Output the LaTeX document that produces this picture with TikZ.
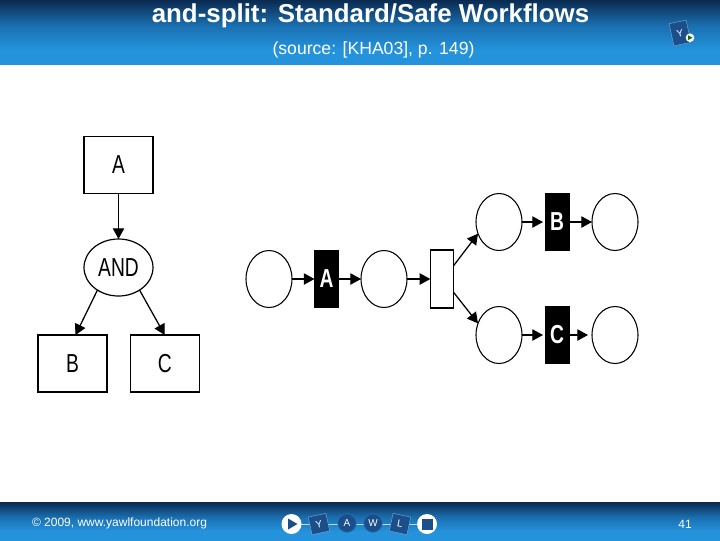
\documentclass[tikz,border=0pt]{standalone}
\usepackage{fontspec}
\setmainfont{Liberation Sans}
\newfontfamily\narrowfont[FakeStretch=0.74]{Liberation Sans}
\usetikzlibrary{arrows.meta,shapes.geometric}
\definecolor{bandA}{HTML}{0A2A50}
\definecolor{bandB}{HTML}{1A6FB0}
\definecolor{bandC}{HTML}{2493DC}
\definecolor{logoDark}{HTML}{1A4F8C}
\definecolor{logoBlue}{HTML}{2A72B4}
\pgfdeclareverticalshading{bandshade}{100bp}{
  color(0bp)=(bandC); color(36bp)=(bandC); color(55bp)=(bandB); color(75bp)=(bandA); color(100bp)=(bandA)}
\tikzset{
  pxgrid/.style={x=0.75pt,y=-0.75pt},
  flow/.style={draw=black,line width=0.95pt,-{Stealth[length=8pt,width=8.5pt,inset=0pt]}},
  taskbox/.style={draw=black,line width=0.9pt,fill=white,rectangle,minimum width=51.75pt,minimum height=42.75pt,inner sep=0pt,outer sep=0pt,font=\narrowfont\fontsize{19.5}{19.5}\selectfont},
  gatewayoval/.style={draw=black,line width=0.9pt,fill=white,ellipse,minimum width=51.75pt,minimum height=42.75pt,inner sep=0pt,outer sep=0pt,font=\narrowfont\fontsize{19.5}{19.5}\selectfont},
  place/.style={draw=black,line width=0.8pt,fill=white,ellipse,minimum width=34.5pt,minimum height=42.75pt,inner sep=0pt,outer sep=0pt},
  blacktask/.style={draw=black,fill=black,rectangle,minimum width=18pt,minimum height=42.75pt,inner sep=0pt,outer sep=0pt,text=white,font=\narrowfont\bfseries\fontsize{19.5}{19.5}\selectfont},
  whitetask/.style={draw=black,line width=0.8pt,fill=white,rectangle,minimum width=17.5pt,minimum height=43.5pt,inner sep=0pt,outer sep=0pt},
  bandtext/.style={text=white,inner sep=0pt},
  logosquare/.style={fill=logoDark,draw=logoBlue!60!white,line width=0.3pt,rectangle,minimum size=13.5pt,inner sep=0pt,text=white,font=\fontsize{7.5}{7.5}\selectfont},
  logoround/.style={fill=logoDark,draw=logoBlue,line width=0.5pt,circle,minimum size=14pt,inner sep=0pt,text=white,font=\fontsize{7.5}{7.5}\selectfont},
  logoend/.style={fill=white,draw=none,circle,minimum size=15pt,inner sep=0pt},
}
\begin{document}
\begin{tikzpicture}[pxgrid]
\useasboundingbox (0,0) rectangle (720,540);
\fill[white] (0,0) rectangle (720,540);
\shade[shading=bandshade] (0,0) rectangle (720,64);
\shade[shading=bandshade] (0,502) rectangle (720,540);

% header
\node[bandtext,font=\bfseries\fontsize{19.4}{19.4}\selectfont] (title) at (370.5,15.5) {and-split: Standard/Safe Workflows};
\node[bandtext,font=\fontsize{13.2}{13.2}\selectfont] (subtitle) at (373.5,50) {(source: [KHA03], p. 149)};
\node[logosquare,minimum width=13pt,minimum height=17pt,rotate=12] (toplogo) at (680,33) {Y};
\node[logoend,minimum size=6.5pt] (topdot) at (690,37.7) {};
\fill[green!45!black] (688.2,35.4) -- (692.5,37.7) -- (688.2,40) -- cycle;

% footer
\node[bandtext,font=\fontsize{9}{9}\selectfont] (copyright) at (119.5,523) {© 2009, www.yawlfoundation.org};
\node[bandtext,font=\fontsize{9}{9}\selectfont] (page) at (685,524) {41};
\coordinate (linkL) at (291.5,524);
\coordinate (linkR) at (427,524);
\draw[white,line width=0.4pt,opacity=.7] (linkL) -- (linkR);
\node[logoend] (play) at (linkL) {};
\fill[logoDark] (288,518.5) -- (297.5,524) -- (288,529.5) -- cycle;
\node[logosquare,rotate=12] (ly) at (319,524) {Y};
\node[logoround] (la) at (347,523) {A};
\node[logoround] (lw) at (373,523) {W};
\node[logosquare,rotate=-12] (ll) at (400,524) {L};
\node[logoend] (stop) at (linkR) {};
\fill[logoDark] (421.5,518.5) rectangle (432.5,529.5);

% left diagram
\node[taskbox] (a) at (118.5,165) {A};
\node[gatewayoval] (and) at (118.5,267.5) {AND};
\node[taskbox] (b) at (72.5,363.5) {B};
\node[taskbox] (c) at (164.75,363.5) {C};
\draw[flow] (a) -- (and);
\draw[flow] (and.227) -- (b.84);
\draw[flow] (and.-47) -- (c.north);

% right diagram
\node[place] (p1) at (269,279) {};
\node[blacktask] (ta) at (326.5,279) {A};
\node[place] (p2) at (384,279) {};
\node[whitetask] (split) at (442,279) {};
\node[place] (p3) at (499,222) {};
\node[blacktask] (tb) at (557,222) {B};
\node[place] (p4) at (615,222) {};
\node[place] (p5) at (499,335) {};
\node[blacktask] (tc) at (557,335) {C};
\node[place] (p6) at (615,335) {};
\draw[flow] (p1) -- (ta);
\draw[flow] (ta) -- (p2);
\draw[flow] (p2) -- (split);
\draw[flow] (split.49) -- (p3.209);
\draw[flow] (split.-49) -- (p5.151);
\draw[flow,shorten >=1.5pt] (p3) -- (tb);
\draw[flow] (tb) -- (p4);
\draw[flow,shorten >=1.5pt] (p5) -- (tc);
\draw[flow,shorten >=3pt] (tc) -- (p6);
\end{tikzpicture}
\end{document}
